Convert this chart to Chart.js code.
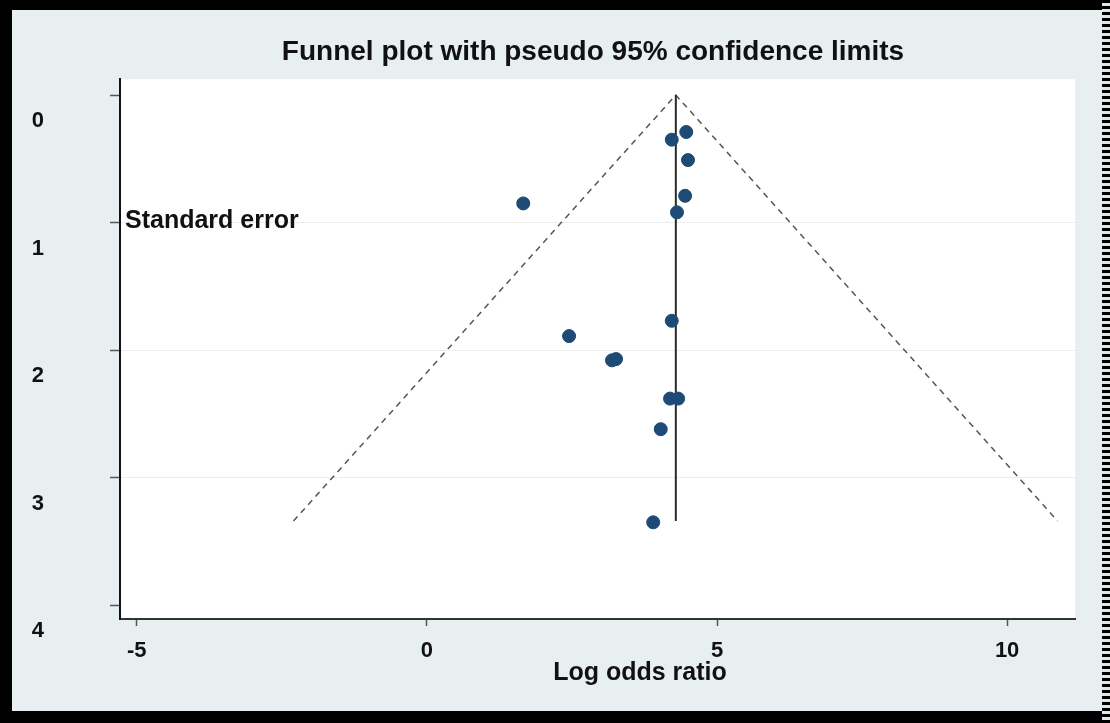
<!DOCTYPE html>
<html>
<head>
<meta charset="utf-8">
<script src="https://cdn.jsdelivr.net/npm/chart.js@4.4.0/dist/chart.umd.min.js"></script>
<style>
  html, body { margin: 0; padding: 0; background: #e8eff1; }
  #wrap { position: relative; width: 1110px; height: 723px; overflow: hidden; background: #e8eff1; }
  .edge { position: absolute; background: #000; pointer-events: none; }
</style>
</head>
<body>
<div id="wrap">
  <canvas id="funnelChart"></canvas>
  <div class="edge" style="left:0;top:0;width:1110px;height:10px;"></div>
  <div class="edge" style="left:0;top:0;width:12px;height:723px;"></div>
  <div class="edge" style="left:0;top:711px;width:1110px;height:12px;"></div>
  <div class="edge" style="left:1102px;top:0;width:8px;height:723px;background:repeating-linear-gradient(#000 0 3px,#dfe6e8 3px 6px);"></div>
</div>
<script>
// study estimates (log odds ratio vs standard error)
const logOR = [4.47, 4.22, 4.50, 4.45, 1.66, 4.31, 4.22, 2.45, 3.19, 3.26, 4.19, 4.33, 4.03, 3.90];
const stdErr = [0.29, 0.35, 0.51, 0.79, 0.85, 0.92, 1.77, 1.89, 2.08, 2.07, 2.38, 2.38, 2.62, 3.35];

// pooled estimate and pseudo 95% limits
const pooledX = [4.29, 4.29];
const pooledY = [0, 3.34];
const limitX = [-2.3, 4.29, 10.87];
const limitY = [3.34, 0, 3.34];

const xTicks = [-5, 0, 5, 10];
const yTicks = [0, 1, 2, 3, 4];

const chartTitle = 'Funnel plot with pseudo 95% confidence limits';
const xTitle = 'Log odds ratio';
const yTitle = 'Standard error';

const toPoints = (xs, ys) => xs.map((x, i) => ({ x: x, y: ys[i] }));

// white plot area + the odd stata-style text placement
const stataDecor = {
    id: 'stataDecor',
    beforeDraw(chart) {
        const { ctx, chartArea: a } = chart;
        ctx.save();
        ctx.fillStyle = '#ffffff';
        ctx.fillRect(a.left, a.top, a.right - a.left, a.bottom - a.top);
        ctx.restore();
    },
    afterDraw(chart) {
        const { ctx, chartArea: a } = chart;
        ctx.save();
        ctx.fillStyle = '#111';
        ctx.textBaseline = 'middle';
        ctx.font = 'bold 28px "Liberation Sans", Arial, sans-serif';
        ctx.textAlign = 'center';
        ctx.fillText(chartTitle, 593, 52);
        ctx.font = 'bold 25px "Liberation Sans", Arial, sans-serif';
        ctx.fillText(xTitle, 640, 673);
        ctx.textAlign = 'left';
        ctx.fillText(yTitle, a.left + 5, chart.scales.y.getPixelForValue(1) - 1);
        ctx.restore();
    }
};

const ctx = document.getElementById('funnelChart');

new Chart(ctx, {
    type: 'scatter',
    data: {
        datasets: [
            {
                label: 'Studies',
                data: toPoints(logOR, stdErr),
                backgroundColor: '#1d4b76',
                borderColor: '#1d4b76',
                pointRadius: 6.5,
                pointHoverRadius: 6.5,
                order: 1
            },
            {
                label: 'Pooled',
                type: 'line',
                data: toPoints(pooledX, pooledY),
                borderColor: '#2a2a2a',
                borderWidth: 2,
                pointRadius: 0,
                fill: false,
                order: 2
            },
            {
                label: 'Pseudo 95% CI',
                type: 'line',
                data: toPoints(limitX, limitY),
                borderColor: '#555',
                borderWidth: 1.5,
                borderDash: [6, 5],
                pointRadius: 0,
                fill: false,
                tension: 0,
                order: 3
            }
        ]
    },
    plugins: [stataDecor],
    options: {
        responsive: true,
        maintainAspectRatio: false,
        animation: false,
        layout: { padding: { left: 0, right: 35, top: 72, bottom: 0 } },
        plugins: {
            legend: { display: false },
            title: { display: false },
            tooltip: { enabled: false }
        },
        scales: {
            x: {
                type: 'linear',
                min: -5.29,
                max: 11.17,
                afterFit: s => { s.height = 104; },
                afterBuildTicks: s => { s.ticks = xTicks.map(v => ({ value: v })); },
                border: { color: '#333', width: 2 },
                grid: { drawOnChartArea: false, tickLength: 7, tickColor: '#555', tickWidth: 1.5 },
                ticks: {
                    color: '#111',
                    padding: 12,
                    font: { family: '"Liberation Sans", Arial, sans-serif', size: 22, weight: 'bold' }
                }
            },
            y: {
                type: 'linear',
                reverse: true,
                min: -0.124,
                max: 4.108,
                afterFit: s => { s.width = 120; },
                afterBuildTicks: s => { s.ticks = yTicks.map(v => ({ value: v })); },
                border: { color: '#111', width: 2 },
                grid: {
                    color: c => (c.tick && c.tick.value > 0 && c.tick.value < 4) ? 'rgba(0,0,0,0.07)' : 'rgba(0,0,0,0)',
                    tickColor: '#555',
                    tickLength: 10,
                    tickWidth: 1.5
                },
                ticks: {
                    color: '#111',
                    padding: 66,
                    labelOffset: 26,
                    font: { family: '"Liberation Sans", Arial, sans-serif', size: 22, weight: 'bold' }
                }
            }
        }
    }
});
</script>
</body>
</html>
